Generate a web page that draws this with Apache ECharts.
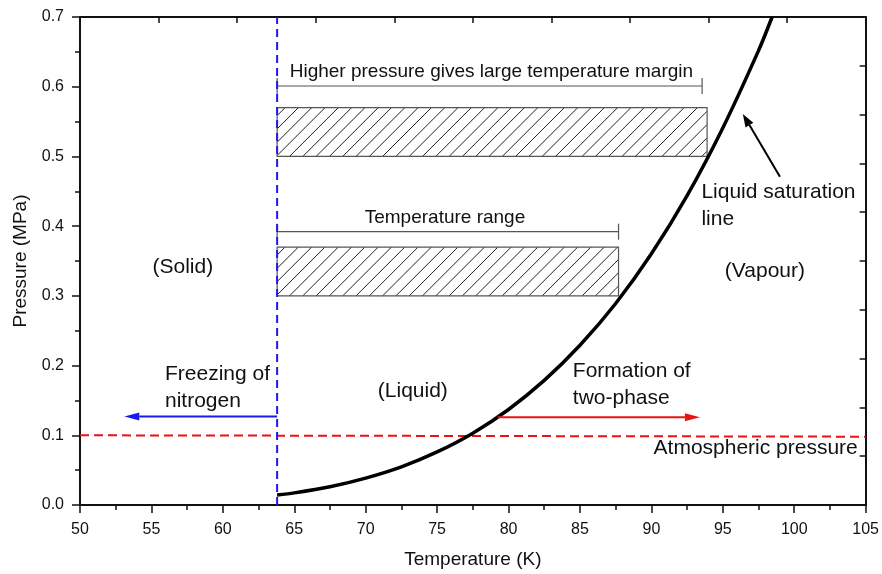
<!DOCTYPE html>
<html>
<head>
<meta charset="utf-8">
<script src="https://cdn.jsdelivr.net/npm/echarts@6/dist/echarts.min.js"></script>
<style>
  html, body { margin: 0; padding: 0; background: #fff; }
  #chart { width: 882px; height: 574px; }
</style>
</head>
<body>
<div id="chart"></div>
<script>
// saturation line of liquid nitrogen (K, MPa)
const satT = [63.8, 65, 67.5, 70, 72.5, 75, 77.5, 80, 82.5, 85, 87.5, 90, 92.5, 95, 97.5, 98.45];
const satP = [0.0145, 0.0174, 0.0262, 0.0386, 0.0547, 0.0761, 0.1030, 0.1370, 0.1787, 0.2291, 0.2890, 0.3604, 0.4438, 0.5409, 0.6518, 0.700];

const freezeT = 63.8;
const atmT = [50, 105];
const atmP = [0.100, 0.098];

// hatched operating ranges
const rangeT0 = [63.8, 63.8];
const rangeT1 = [93.9, 87.7];
const rangeP0 = [0.50, 0.30];
const rangeP1 = [0.57, 0.37];

// brackets above the ranges
const bracketT0 = [63.8, 63.8];
const bracketT1 = [93.55, 87.7];
const bracketP = [0.601, 0.392];

// arrows: [fromT, fromP, toT, toP]
const arrowFrom = [[63.8, 0.127], [79.25, 0.126], [99.0, 0.471]];
const arrowTo = [[53.1, 0.127], [93.4, 0.126], [96.4, 0.561]];
const arrowColor = ['#1a1aee', '#ee1111', '#000'];

// annotations
const noteText = ['Higher pressure gives large temperature margin', 'Temperature range', '(Solid)',
  'Freezing of\nnitrogen', '(Liquid)', 'Formation of\ntwo-phase', '(Vapour)',
  'Liquid saturation\nline', 'Atmospheric pressure'];
const noteT = [78.8, 75.55, 57.2, 55.95, 73.3, 84.5, 97.95, 93.5, 104.45];
const noteP = [0.621, 0.412, 0.341, 0.168, 0.163, 0.172, 0.335, 0.429, 0.0816];
const noteAlign = ['center', 'center', 'center', 'left', 'center', 'left', 'center', 'left', 'right'];
const noteSize = [19, 19, 21, 21, 21, 21, 21, 21, 21];

const xTicks = { min: 50, max: 105, step: 5 };
const yTicks = { min: 0, max: 0.7, step: 0.1 };

const FONT = 'Arial, "Liberation Sans", Helvetica, sans-serif';

let chart = echarts.init(document.getElementById('chart'), null, { renderer: 'canvas' });

function hatchRender (params, api) {
  let a = api.coord([api.value(0), api.value(3)]);
  let b = api.coord([api.value(1), api.value(2)]);
  let x0 = a[0], y0 = a[1], x1 = b[0], y1 = b[1];
  let children = [];
  let step = 13.3;
  for (let c = x0 + y0 + step * 0.6; c < x1 + y1; c += step) {
    // line x + y = c, from lower-left to upper-right
    let sx = c - y1, sy = y1;
    if (sx < x0) { sx = x0; sy = c - x0; }
    let ex = c - y0, ey = y0;
    if (ex > x1) { ex = x1; ey = c - x1; }
    children.push({
      type: 'line',
      shape: { x1: sx, y1: sy, x2: ex, y2: ey },
      style: { stroke: '#222', lineWidth: 1 }
    });
  }
  children.push({
    type: 'rect',
    shape: { x: x0, y: y0, width: x1 - x0, height: y1 - y0 },
    style: { fill: null, stroke: '#555', lineWidth: 1.2 }
  });
  return { type: 'group', children: children };
}

function bracketRender (params, api) {
  let a = api.coord([api.value(0), api.value(2)]);
  let b = api.coord([api.value(1), api.value(2)]);
  let st = { stroke: '#555', lineWidth: 1.2 };
  return {
    type: 'group',
    children: [
      { type: 'line', shape: { x1: a[0], y1: a[1], x2: b[0], y2: b[1] }, style: st },
      { type: 'line', shape: { x1: a[0], y1: a[1] - 8, x2: a[0], y2: a[1] + 8 }, style: st },
      { type: 'line', shape: { x1: b[0], y1: b[1] - 8, x2: b[0], y2: b[1] + 8 }, style: st }
    ]
  };
}

function arrowRender (params, api) {
  let p0 = api.coord([api.value(0), api.value(1)]);
  let p1 = api.coord([api.value(2), api.value(3)]);
  let color = arrowColor[params.dataIndex];
  let dx = p1[0] - p0[0], dy = p1[1] - p0[1];
  let len = Math.sqrt(dx * dx + dy * dy);
  let ux = dx / len, uy = dy / len;
  let hl = params.dataIndex === 2 ? 13 : 15;
  let hw = params.dataIndex === 2 ? 4.5 : 4;
  let bx = p1[0] - ux * hl, by = p1[1] - uy * hl;
  return {
    type: 'group',
    children: [
      { type: 'line', shape: { x1: p0[0], y1: p0[1], x2: bx, y2: by },
        style: { stroke: color, lineWidth: 2 } },
      { type: 'polygon',
        shape: { points: [[p1[0], p1[1]], [bx - uy * hw, by + ux * hw], [bx + uy * hw, by - ux * hw]] },
        style: { fill: color } }
    ]
  };
}

function noteRender (params, api) {
  let p = api.coord([api.value(0), api.value(1)]);
  let i = params.dataIndex;
  return {
    type: 'text',
    x: p[0],
    y: p[1],
    style: {
      text: noteText[i],
      fill: '#111',
      fontSize: noteSize[i],
      fontFamily: FONT,
      lineHeight: 27,
      align: noteAlign[i],
      verticalAlign: 'middle'
    }
  };
}

let option = {
  backgroundColor: '#fff',
  animation: false,
  grid: { left: 80, right: 16, top: 17, bottom: 66, containLabel: false },
  xAxis: [{
    type: 'value',
    min: xTicks.min, max: xTicks.max, interval: xTicks.step,
    name: 'Temperature (K)', nameLocation: 'middle', nameGap: 45,
    nameTextStyle: { fontSize: 19, fontFamily: FONT, color: '#111' },
    axisLine: { onZero: false, lineStyle: { color: '#111', width: 2 } },
    axisTick: { length: 8, lineStyle: { color: '#111', width: 1.5 } },
    minorTick: { show: true, splitNumber: 2, length: 5, lineStyle: { color: '#111', width: 1.5 } },
    axisLabel: { fontSize: 16, fontFamily: FONT, color: '#111', margin: 17 },
    splitLine: { show: false }
  }, {
    type: 'value', position: 'top', min: 0, max: 10, interval: 1,
    axisLine: { show: true, onZero: false, lineStyle: { color: '#111', width: 2 } },
    axisTick: { show: true, inside: true, length: 6, lineStyle: { color: '#111', width: 1.5 } },
    axisLabel: { show: false },
    splitLine: { show: false }
  }],
  yAxis: [{
    type: 'value',
    min: yTicks.min, max: yTicks.max, interval: yTicks.step,
    name: 'Pressure (MPa)', nameLocation: 'middle', nameGap: 50, nameRotate: 90,
    nameTextStyle: { fontSize: 19, fontFamily: FONT, color: '#111' },
    axisLine: { show: true, onZero: false, lineStyle: { color: '#111', width: 2 } },
    axisTick: { show: true, length: 8, lineStyle: { color: '#111', width: 1.5 } },
    minorTick: { show: true, splitNumber: 2, length: 5, lineStyle: { color: '#111', width: 1.5 } },
    axisLabel: { fontSize: 16, fontFamily: FONT, color: '#111', margin: 16,
      formatter: v => v.toFixed(1) },
    splitLine: { show: false }
  }, {
    type: 'value', position: 'right', min: 0, max: 10, interval: 1,
    axisLine: { show: true, onZero: false, lineStyle: { color: '#111', width: 2 } },
    axisTick: { show: true, inside: true, length: 6, lineStyle: { color: '#111', width: 1.5 } },
    axisLabel: { show: false },
    splitLine: { show: false }
  }],
  series: [
    {
      type: 'custom', name: 'ranges', renderItem: hatchRender,
      data: rangeT0.map((t, i) => [t, rangeT1[i], rangeP0[i], rangeP1[i]]),
      encode: { x: [0, 1], y: [2, 3] }, z: 2
    },
    {
      type: 'custom', name: 'brackets', renderItem: bracketRender,
      data: bracketT0.map((t, i) => [t, bracketT1[i], bracketP[i]]),
      encode: { x: [0, 1], y: 2 }, z: 2
    },
    {
      type: 'line', name: 'Atmospheric pressure',
      data: atmT.map((t, i) => [t, atmP[i]]),
      showSymbol: false, z: 3,
      lineStyle: { color: '#ee1111', width: 2, type: [9, 5] }
    },
    {
      type: 'line', name: 'Freezing',
      data: [[freezeT, yTicks.min], [freezeT, yTicks.max]],
      showSymbol: false, z: 3,
      lineStyle: { color: '#1a1aee', width: 2, type: [8, 5] }
    },
    {
      type: 'line', name: 'Liquid saturation line',
      data: satT.map((t, i) => [t, satP[i]]),
      showSymbol: false, smooth: 0.3, z: 4,
      lineStyle: { color: '#000', width: 3.5 }
    },
    {
      type: 'custom', name: 'arrows', renderItem: arrowRender,
      data: arrowFrom.map((f, i) => [f[0], f[1], arrowTo[i][0], arrowTo[i][1]]),
      encode: { x: [0, 2], y: [1, 3] }, z: 5
    },
    {
      type: 'custom', name: 'notes', renderItem: noteRender,
      data: noteT.map((t, i) => [t, noteP[i]]),
      encode: { x: 0, y: 1 }, z: 6
    }
  ]
};

chart.setOption(option);
</script>
</body>
</html>
